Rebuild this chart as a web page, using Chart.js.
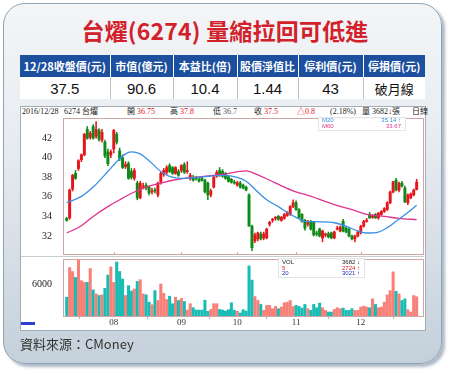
<!DOCTYPE html>
<html><head><meta charset="utf-8">
<script src="https://cdn.jsdelivr.net/npm/chart.js@4.4.1/dist/chart.umd.min.js"></script>
<style>
html,body{margin:0;padding:0;background:#fff;}
#wrap{position:relative;width:450px;height:376px;overflow:hidden;font-family:"Noto Sans CJK TC","Noto Sans",sans-serif;}
#panel{position:absolute;left:3px;top:3px;width:437px;height:359px;border:1.5px solid #8ea3b7;border-radius:22px;
 background:linear-gradient(to bottom,#f3f5f7 0%,#e9edf1 35%,#d6dee6 70%,#c4d0db 100%);box-shadow:3px 3px 3px rgba(110,130,150,0.55);}
#title{position:absolute;left:0;top:14px;width:450px;text-align:center;color:#d3212b;font-weight:700;font-size:23px;line-height:32px;letter-spacing:0.2px;}
#tbl{position:absolute;left:20px;top:55px;border-collapse:collapse;table-layout:fixed;width:405px;}
#tbl td{padding:0;text-align:center;overflow:hidden;white-space:nowrap;}
#tbl tr.h td{background:#1c4f9e;color:#fff;font-weight:700;font-size:11px;height:22px;border-left:1px solid #fff;}
#tbl tr.h td:first-child{border-left:none;}
#tbl tr.v td{background:#fff;color:#111;font-family:"Liberation Sans",Arial,sans-serif;font-size:15px;height:22px;border-left:1px solid #b8c2cc;}
#tbl tr.v td:first-child{border-left:none;}
#box{position:absolute;left:20px;top:106px;width:404px;height:223px;background:#fff;border:1px solid #a3adb7;}
.hd{position:absolute;top:107px;font-family:"Liberation Serif","Noto Sans CJK TC",serif;font-size:8px;line-height:10px;color:#222;white-space:nowrap;}
.r{color:#e0141b;}
#sep{position:absolute;left:21px;top:256px;width:403px;height:1px;background:#c9ccd0;}
canvas{position:absolute;}
.lg{position:absolute;background:rgba(255,255,255,0.92);border:1px solid #e2e4ea;font-family:"Liberation Sans",sans-serif;font-size:6px;line-height:5.6px;}
.lg div{position:relative;height:5.6px;}
.lg span.a{position:absolute;left:3px;}
.lg span.b{position:absolute;right:4px;}
#foot{position:absolute;left:20px;top:336px;font-size:13px;line-height:16px;color:#333;}
#logo{position:absolute;left:21px;top:322px;width:14px;height:3px;background:#2f3fd0;}
</style></head>
<body>
<div id="wrap">
 <div id="panel"></div>
 <div id="title">台燿(6274) 量縮拉回可低進</div>
 <table id="tbl">
  <colgroup><col style="width:90px"><col style="width:63px"><col style="width:64px"><col style="width:61px"><col style="width:65px"><col style="width:62px"></colgroup>
  <tr class="h"><td>12/28收盤價(元)</td><td>市值(億元)</td><td>本益比(倍)</td><td>股價淨值比</td><td>停利價(元)</td><td>停損價(元)</td></tr>
  <tr class="v"><td>37.5</td><td>90.6</td><td>10.4</td><td>1.44</td><td>43</td><td style="font-family:'Noto Sans CJK TC';font-size:13px">破月線</td></tr>
 </table>
 <div id="box"></div>
 <div class="hd" style="left:22px">2016/12/28</div>
 <div class="hd" style="left:64px">6274 台燿</div>
 <div class="hd" style="left:127px">開 <span class="r">36.75</span></div>
 <div class="hd" style="left:170px">高 <span class="r">37.8</span></div>
 <div class="hd" style="left:213px">低 <span style="color:#555">36.7</span></div>
 <div class="hd" style="left:254px">收 <span class="r">37.5</span></div>
 <div class="hd r" style="left:297px">△0.8</div>
 <div class="hd" style="left:330px">(2.18%)</div>
 <div class="hd" style="left:362px">量 3682↓張</div>
 <div class="hd" style="left:412px">日線</div>
 <div id="sep"></div>
 <canvas id="price" width="405" height="155" style="left:20px;top:109px;width:405px;height:155px"></canvas>
 <canvas id="vol" width="405" height="80" style="left:20px;top:250px;width:405px;height:80px"></canvas>
 <div class="lg" style="left:318px;top:117px;width:86px;height:12px;">
  <div style="color:#3a8fe2"><span class="a">M20</span><span class="b">35.14 ↑</span></div>
  <div style="color:#e0338c"><span class="a">M60</span><span class="b">33.67</span></div>
 </div>
 <div class="lg" style="left:278px;top:258px;width:85px;height:18px;">
  <div style="color:#222;margin-top:1px"><span class="a">VOL</span><span class="b">3682 ↓</span></div>
  <div style="color:#e02020"><span class="a">5</span><span class="b">2724 ↑</span></div>
  <div style="color:#2233bb"><span class="a">20</span><span class="b">3021 ↑</span></div>
 </div>
 <div id="logo"></div>
 <div id="foot">資料來源：CMoney</div>
</div>
<script>
// ---- data ----
const dates = [
 "07/08","07/11","07/12","07/13","07/14","07/15","07/18","07/19","07/20","07/21","07/22","07/25","07/26","07/27","07/28","07/29",
 "08/01","08/02","08/03","08/04","08/05","08/08","08/09","08/10","08/11","08/12","08/15","08/16","08/17","08/18","08/19","08/22","08/23","08/24","08/25","08/26","08/29","08/30","08/31",
 "09/01","09/02","09/05","09/06","09/07","09/08","09/09","09/12","09/13","09/14","09/19","09/20","09/21","09/22","09/23","09/26","09/27","09/29","09/30",
 "10/03","10/04","10/05","10/06","10/07","10/11","10/12","10/13","10/14","10/17","10/18","10/19","10/20","10/21","10/24","10/25","10/26","10/27","10/28","10/31",
 "11/01","11/02","11/03","11/04","11/07","11/08","11/09","11/10","11/11","11/14","11/15","11/16","11/17","11/18","11/21","11/22","11/23","11/24","11/25","11/28","11/29","11/30",
 "12/01","12/02","12/05","12/06","12/07","12/08","12/09","12/12","12/13","12/14","12/15","12/16","12/19","12/20","12/21","12/22","12/23","12/26","12/27","12/28"
];
const open = [
 33.8,33.85,36.8,38.4,38.9,39.8,40.3,42.9,42.1,43.2,42.2,42.8,41.8,41.6,40.6,40.3,
 40.9,42.4,40.7,40.0,39.1,39.4,38.6,37.9,37.4,35.9,37.0,37.2,37.0,36.5,36.7,36.2,37.5,38.3,38.5,39.2,39.0,38.4,38.6,
 38.7,39.3,38.6,37.9,38.0,37.9,37.8,37.9,37.7,37.4,36.2,37.0,38.1,38.7,38.6,38.4,38.05,37.8,37.5,
 37.2,37.4,37.2,37.0,36.2,33.0,31.5,31.7,32.2,31.8,31.8,33.2,33.6,33.8,34.0,33.6,33.8,34.1,34.2,35.0,
 35.4,34.7,34.2,33.6,33.2,33.5,33.4,32.3,32.7,31.8,32.1,32.2,32.3,31.8,32.7,32.5,33.5,32.8,32.7,32.0,31.7,32.0,
 32.35,33.0,33.5,34.2,33.9,34.2,33.85,34.2,34.5,34.7,35.4,36.5,37.7,36.7,37.4,36.9,35.4,35.9,36.2,36.75
];
const high = [
 33.9,36.8,38.3,38.7,39.8,40.4,42.5,43.2,42.7,43.4,43.7,43.0,42.9,41.8,40.9,40.8,
 42.9,42.6,41.0,40.3,39.6,39.6,38.9,38.9,37.6,37.6,37.4,37.4,37.1,36.9,36.9,37.5,38.5,38.9,39.2,39.4,39.1,39.1,38.8,
 39.3,39.5,39.6,38.4,38.2,38.1,38.0,38.0,37.8,37.5,36.8,38.1,38.7,39.0,38.8,38.5,38.2,37.9,37.7,
 37.6,37.6,37.3,37.1,36.3,33.1,32.3,32.4,32.4,32.4,32.8,33.5,33.8,34.0,34.1,34.0,34.3,34.5,35.1,35.7,
 35.6,34.8,34.3,33.7,33.6,33.6,33.5,32.5,32.8,32.6,32.3,32.4,32.4,32.5,33.0,33.0,33.7,32.9,32.8,32.1,32.1,32.5,
 33.1,33.6,33.8,34.4,34.2,34.3,34.4,34.6,34.9,35.5,36.6,37.6,37.9,37.5,37.6,37.1,36.3,36.4,36.8,37.8
];
const low = [
 33.5,33.7,36.6,37.8,38.7,39.6,40.2,41.9,41.9,41.9,42.0,41.7,41.6,40.0,39.2,40.0,
 40.5,41.4,39.7,38.9,38.9,37.8,37.8,37.7,35.7,35.8,36.8,36.7,36.2,36.3,36.4,36.0,37.3,38.1,38.3,38.5,38.3,38.3,38.1,
 38.5,38.4,38.4,37.7,37.6,37.7,37.5,37.6,36.4,35.7,36.0,36.9,38.0,38.1,38.0,37.8,37.5,37.4,37.3,
 37.1,36.9,36.8,36.6,33.0,30.5,31.3,31.5,31.6,31.6,31.7,33.0,33.4,33.6,33.6,33.5,33.7,34.0,34.1,34.9,
 34.6,33.8,33.4,32.6,33.0,32.6,32.0,32.0,31.9,31.4,31.9,31.8,31.7,31.7,32.6,32.4,32.4,32.3,31.9,31.6,31.4,31.9,
 32.2,32.9,33.4,33.8,33.8,33.8,33.7,34.1,34.4,34.6,35.3,36.4,36.6,36.5,37.0,35.4,35.2,35.8,36.1,36.7
];
const close = [
 33.6,36.7,38.2,37.9,39.7,40.3,42.4,42.0,42.5,42.0,42.9,41.9,42.6,40.2,39.4,40.6,
 42.8,41.6,39.9,39.0,39.3,37.9,38.0,38.7,35.9,37.4,37.1,36.9,36.4,36.6,36.6,37.4,38.4,38.7,39.0,38.6,38.4,39.0,38.2,
 39.2,38.5,38.7,38.2,37.7,37.85,37.6,37.7,36.5,36.2,36.6,38.0,38.5,38.2,38.1,37.9,37.6,37.5,37.4,
 37.45,37.0,36.9,36.7,33.0,30.8,32.1,32.3,31.7,32.2,32.7,33.4,33.7,33.9,33.7,33.9,34.2,34.4,35.0,35.4,
 34.7,33.9,33.5,32.8,33.5,32.7,32.1,32.2,32.0,32.5,32.2,31.9,31.8,32.4,32.8,32.9,32.5,32.4,32.0,31.7,32.0,32.4,
 33.0,33.5,33.6,33.85,34.0,33.85,34.35,34.5,34.8,35.4,36.5,37.55,36.7,37.4,37.1,35.5,36.2,36.3,36.7,37.5
];
const volume = [
 3600,9280,8520,7390,10730,6760,6440,6440,9090,5000,4240,3920,4050,5300,7840,9410,
 6440,10350,8520,7080,3920,5810,4800,5180,6630,6950,4240,4070,2650,2160,4860,2970,6130,4350,3160,3790,2350,3600,2970,
 3360,2780,1140,2350,1590,1140,1140,1140,3030,890,1260,2350,2350,1260,1140,950,1206,2530,1079,
 890,574,1206,953,9598,6885,3729,2972,2215,1079,2025,2025,1395,1836,1395,1710,2530,2656,2972,1836,
 2025,1836,1520,2215,1395,1079,2215,1584,2467,1584,1079,763,763,1268,1584,1395,1520,1079,1079,1395,1079,1079,
 1710,1899,1710,1584,3288,2215,1584,1710,2656,4045,4865,8462,4738,4235,2972,3288,1206,763,3918,3682
];
const ma20 = [
 ["07/08",35.4],["07/15",36.05],["07/21",37.0],["07/28",38.6],["08/02",39.6],["08/05",40.4],["08/09",40.6],["08/12",40.4],
 ["08/17",39.7],["08/23",38.6],["08/26",38.1],["09/01",37.9],["09/09",38.0],["09/23",38.2],["10/03",38.0],["10/06",37.6],
 ["10/13",36.5],["10/18",35.7],["10/24",35.0],["10/27",34.4],["11/01",33.9],["11/04",33.5],["11/11",33.45],["11/18",33.35],
 ["11/24",33.0],["11/30",32.5],["12/05",32.3],["12/09",32.4],["12/14",32.85],["12/19",33.5],["12/23",34.4],["12/28",35.14]
];
const ma60 = [
 ["07/08",32.3],["07/15",33.05],["07/21",34.0],["07/28",35.0],["08/03",35.7],["08/10",36.5],["08/16",37.0],["08/23",37.4],
 ["08/29",37.7],["09/02",37.9],["09/09",38.05],["09/23",38.3],["10/06",38.65],["10/13",38.25],["10/19",37.7],["10/26",37.0],
 ["11/01",36.5],["11/04",36.25],["11/11",35.75],["11/18",35.2],["11/28",34.7],["12/05",34.2],["12/13",34.0],["12/20",33.8],["12/28",33.67]
];
const priceTicks = [32,34,36,38,40,42];
const volTicks = [6000];

// ---- styles / layout ----
const UP='#e6161c', DOWN='#0f8a18', VUP='#f78079', VDOWN='#17bdb5', AXIS='#cfa6a6';
const idx = dates.map((d,i)=>i);
const isUp = i => close[i] >= open[i];
const monthStarts = idx.filter(i => i>0 && dates[i].slice(0,2) !== dates[i-1].slice(0,2));
const X_MIN = -1.26, X_MAX = 121.5;

const boxPlugin = {
 id:'box',
 beforeDatasetsDraw(chart){
  const {ctx, chartArea:a} = chart; const xs = chart.scales.x;
  ctx.save(); ctx.strokeStyle = AXIS; ctx.lineWidth = 1;
  ctx.strokeRect(Math.round(a.left)+0.5, Math.round(a.top)+0.5, Math.round(a.right-a.left)-1, Math.round(a.bottom-a.top)-1);
  ctx.beginPath();
  monthStarts.forEach(i=>{const px=Math.round(xs.getPixelForValue(i))+0.5; ctx.moveTo(px,a.bottom-3); ctx.lineTo(px,a.bottom);});
  ctx.stroke(); ctx.restore();
 }
};
const yBase = (w) => ({grid:{display:false}, border:{display:false}, afterFit:s=>{s.width=w;},
  ticks:{padding:3,color:'#222',font:{family:'Liberation Serif',size:10}, callback:v=>String(v)}});

new Chart(document.getElementById('price'), {
 type:'bar',
 data:{datasets:[
  {type:'line', data: ma20.map(([d,v])=>({x:dates.indexOf(d), y:v})), borderColor:'#3a8fe2', borderWidth:1.3, pointRadius:0, cubicInterpolationMode:'monotone', order:0},
  {type:'line', data: ma60.map(([d,v])=>({x:dates.indexOf(d), y:v})), borderColor:'#e0338c', borderWidth:1.3, pointRadius:0, cubicInterpolationMode:'monotone', order:0},
  {type:'bar', data: idx.map(i=>({x:i, y:[low[i],high[i]]})), backgroundColor: c=>isUp(c.dataIndex)?UP:DOWN, barThickness:0.9, grouped:false, order:2},
  {type:'bar', data: idx.map(i=>({x:i, y:[open[i],close[i]]})), backgroundColor: c=>isUp(c.dataIndex)?UP:DOWN, barThickness:2.3, minBarLength:1, grouped:false, order:1}
 ]},
 options:{
  responsive:false, animation:false, events:[],
  layout:{padding:{top:8,bottom:8,left:0,right:1}},
  plugins:{legend:{display:false},tooltip:{enabled:false}},
  scales:{
   x:{type:'linear', min:X_MIN, max:X_MAX, offset:false, display:false},
   y:Object.assign(yBase(43), {min:30.05, max:44.07, afterBuildTicks:s=>{s.ticks=priceTicks.map(v=>({value:v}));}})
  }
 },
 plugins:[boxPlugin]
});

new Chart(document.getElementById('vol'), {
 type:'bar',
 data:{datasets:[
  {data: idx.map(i=>({x:i, y:volume[i]})), backgroundColor: c=>isUp(c.dataIndex)?VUP:VDOWN, barThickness:2.4, grouped:false}
 ]},
 options:{
  responsive:false, animation:false, events:[],
  layout:{padding:{top:8,bottom:0,left:0,right:1}},
  plugins:{legend:{display:false},tooltip:{enabled:false}},
  scales:{
   x:{type:'linear', min:X_MIN, max:X_MAX, offset:false,
      afterBuildTicks:s=>{s.ticks=monthStarts.map(i=>({value:i}));},
      afterFit:s=>{s.height=14;},
      grid:{drawOnChartArea:false, tickLength:3, color:AXIS}, border:{display:false},
      ticks:{autoSkip:false, maxRotation:0, padding:-2, color:'#333', font:{family:'Liberation Serif',size:9},
             callback:v=>dates[v] ? dates[v].slice(0,2) : ''}},
   y:Object.assign(yBase(43), {min:0, max:10920, afterBuildTicks:s=>{s.ticks=volTicks.map(v=>({value:v}));}})
  }
 },
 plugins:[{id:'vbox', beforeDatasetsDraw(chart){const {ctx,chartArea:a}=chart; ctx.save(); ctx.strokeStyle=AXIS; ctx.lineWidth=1;
   ctx.strokeRect(Math.round(a.left)+0.5, Math.round(a.top)+0.5, Math.round(a.right-a.left)-1, Math.round(a.bottom-a.top)); ctx.restore();}}]
});
</script>
</body></html>
